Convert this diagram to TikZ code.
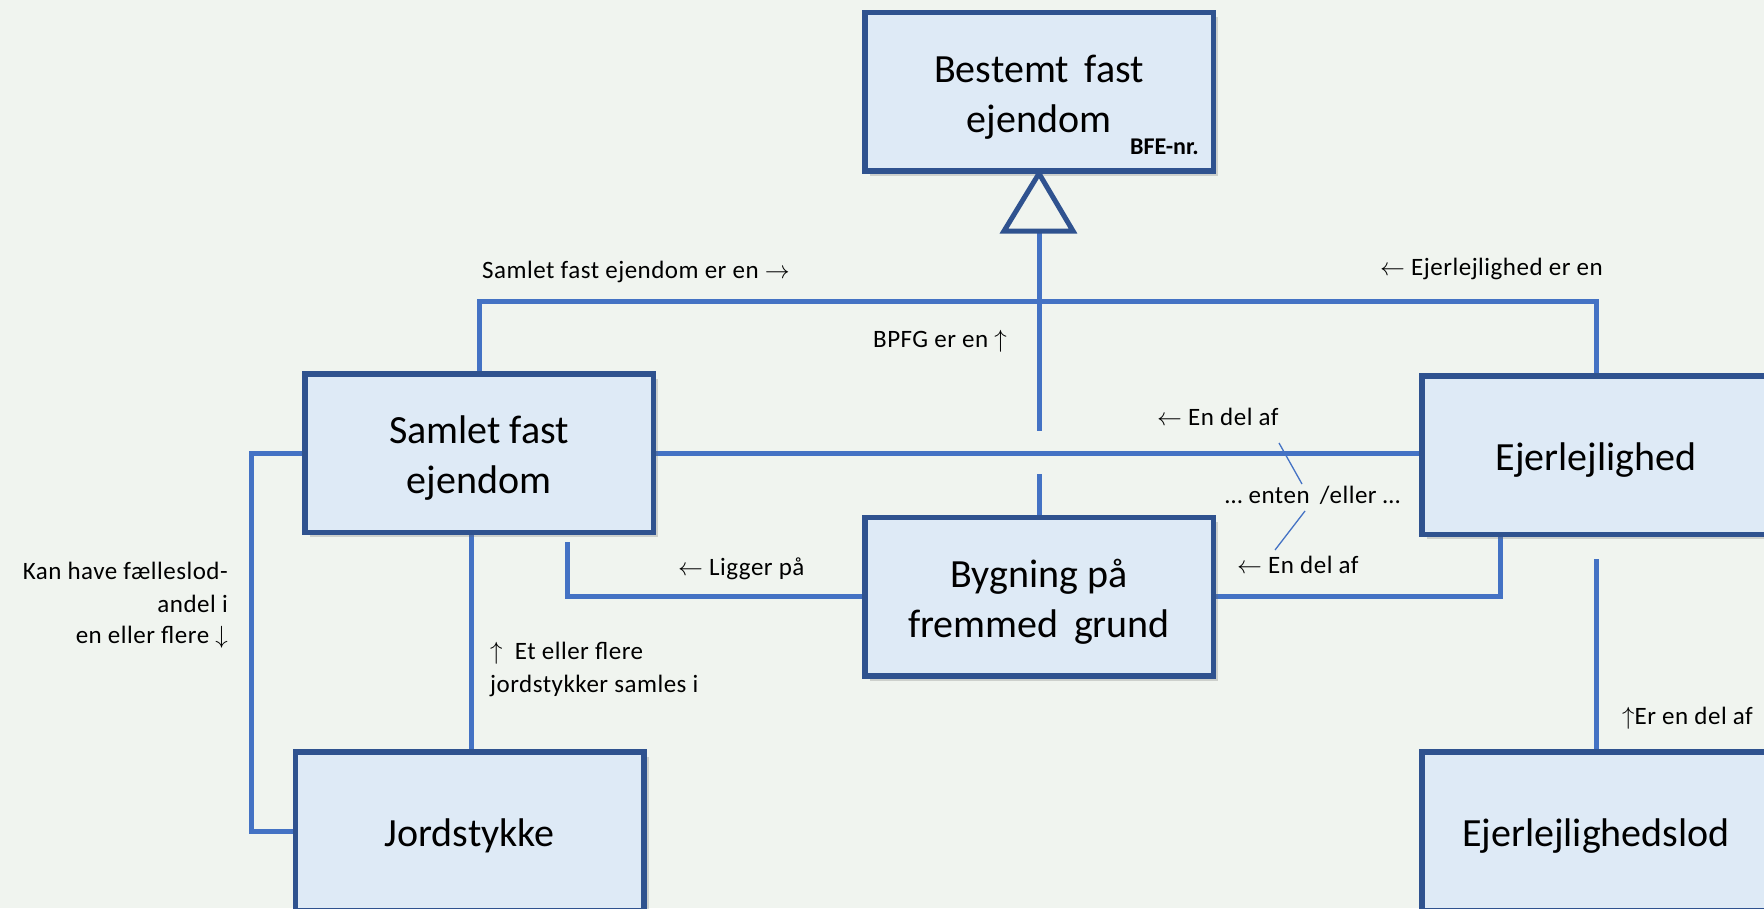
\documentclass[tikz,border=0pt]{standalone}
\usepackage{fontspec}
\setmainfont{Carlito}
\newfontfamily\lblfamily[LetterSpace=2]{Carlito}
\usetikzlibrary{shadows}
\definecolor{bg}{HTML}{F0F4EF}
\definecolor{boxfill}{HTML}{DEEAF6}
\definecolor{boxborder}{HTML}{2F528F}
\definecolor{connblue}{HTML}{4472C4}
\newcommand{\bigtxt}{\fontsize{40}{50}\selectfont}
\newcommand{\smalltxt}{\lblfamily\fontsize{25}{31}\selectfont}
\newcommand{\tp}{\rule{0pt}{38pt}}
\tikzset{
  ebox/.style={draw=boxborder, line width=5.5pt, fill=boxfill,
    minimum width=348.5pt, minimum height=158.5pt, inner sep=0pt,
    align=center, font=\bigtxt,
    drop shadow={shadow xshift=5pt, shadow yshift=-5pt, opacity=0.25, fill=black!60}},
  ghost/.style={minimum width=348.5pt, minimum height=158.5pt, inner sep=0pt},
  conn/.style={draw=connblue, line width=5pt},
  thin/.style={draw=connblue, line width=1.3pt},
  lbl/.style={font=\smalltxt, inner sep=0pt},
}
\begin{document}
\begin{tikzpicture}[x=1pt,y=-1pt]
\fill[bg] (0,0) rectangle (1764,908);
\useasboundingbox (0,0) rectangle (1764,908);
\clip (0,0) rectangle (1764,908);

% box centres
\coordinate (cbfe) at (1039,91.5);
\coordinate (csam) at (479,453);
\coordinate (cbyg) at (1039,596.5);
\coordinate (cejer) at (1596,455);
\coordinate (cjord) at (469.5,831);
\coordinate (clod) at (1596,831);

% helper nodes with the boxes' geometry, to route connectors beneath the boxes
\node[ghost] (bfe) at (cbfe) {};
\node[ghost] (sam) at (csam) {};
\node[ghost] (byg) at (cbyg) {};
\node[ghost] (ejer) at (cejer) {};
\node[ghost] (jord) at (cjord) {};
\node[ghost] (lod) at (clod) {};

% connectors
\coordinate (tribase) at (1039,231);
\coordinate (trileft) at (1004,231);
\coordinate (triright) at (1073,231);
\coordinate (bus) at (1039,301);
\coordinate (gaptop) at (1039,431);
\coordinate (gapbot) at (1039,474);
\draw[conn] (tribase) -- (gaptop);
\draw[conn] (gapbot) -- (byg.north);
\draw[conn] (sam.north) |- (bus) -| (ejer.north);
\draw[conn] (sam.east) -- (sam.east -| ejer.west);
\draw[conn] (sam.west) -- ++(-53,0) |- (jord.west);
\draw[conn] ([xshift=1.5pt]jord.north) -- ([xshift=1.5pt]jord.north |- sam.south);
\coordinate (lp) at ([xshift=88pt,yshift=-10pt]sam.south);
\draw[conn] (lp) |- (byg.west);
\draw[conn] (byg.east) -| ([xshift=-96pt]ejer.south);
\draw[conn] ([yshift=-25pt]ejer.south) -- (lod.north);

% either/or thin lines
\coordinate (t1a) at (1279,443);
\coordinate (t1b) at (1302,484);
\coordinate (t2a) at (1305,511);
\coordinate (t2b) at (1275,550);
\draw[thin] (t1a) -- (t1b);
\draw[thin] (t2a) -- (t2b);

% boxes
\node[ebox] (bfe) at (cbfe) {\tp Bestemt\, fast\\ejendom};
\node[ebox] (sam) at (csam) {\tp Samlet fast\\ejendom};
\node[ebox] (byg) at (cbyg) {\tp Bygning på\\fremmed\, grund};
\node[ebox] (ejer) at (cejer) {\tp Ejerlejlighed};
\node[ebox] (jord) at (cjord) {\tp Jordstykke};
\node[ebox] (lod) at (clod) {\tp Ejerlejlighedslod};
\node[inner sep=0pt, anchor=base east, font=\bfseries\fontsize{24}{28}\selectfont] (bfenr) at (1199,154) {BFE-nr.};

% generalisation triangle
\draw[draw=boxborder, line width=5pt, fill=bg, line join=miter]
  (bfe.south) -- (trileft) -- (triright) -- cycle;

% labels
\node[lbl, anchor=base west] (l1) at (482,278) {Samlet fast ejendom er en $\rightarrow$};
\node[lbl, anchor=base west] (l2) at (1380,275) {$\leftarrow$ Ejerlejlighed er en};
\node[lbl, anchor=base west] (l3) at (873,347) {BPFG er en $\uparrow$};
\node[lbl, anchor=base west] (l4) at (1157,425) {$\leftarrow$ En del af};
\node[lbl, anchor=base west] (l5) at (1225,503) {… enten\, /eller …};
\node[lbl, anchor=base west] (l6) at (1237,573) {$\leftarrow$ En del af};
\node[lbl, anchor=base west] (l7) at (678,575) {$\leftarrow$ Ligger på};
\node[lbl, anchor=base west] (l8a) at (490,659) {$\uparrow$\ \ Et eller flere};
\node[lbl, anchor=base west] (l8b) at (490,692) {jordstykker samles i};
\node[lbl, anchor=base east] (l9a) at (228,579) {Kan have fælleslod-};
\node[lbl, anchor=base east] (l9b) at (228,612) {andel i};
\node[lbl, anchor=base east] (l9c) at (228,643) {en eller flere $\downarrow$};
\node[lbl, anchor=base west] (l10) at (1622,724) {$\uparrow$Er en del af};
\end{tikzpicture}
\end{document}
